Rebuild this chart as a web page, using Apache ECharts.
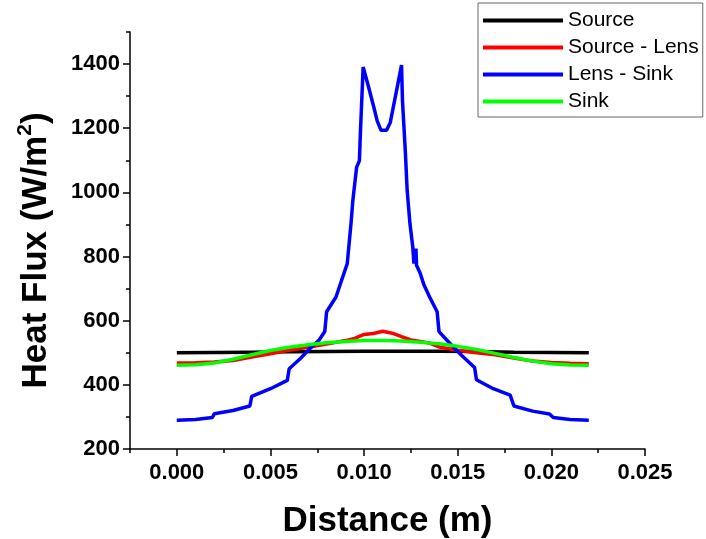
<!DOCTYPE html>
<html>
<head>
<meta charset="utf-8">
<script src="https://cdn.jsdelivr.net/npm/echarts@6/dist/echarts.min.js"></script>
<style>html,body{margin:0;padding:0;background:#fff;}#c{width:706px;height:539px;}</style>
</head>
<body>
<div id="c"></div>
<script>
// ---- data ----
const seriesNames = ['Source', 'Source - Lens', 'Lens - Sink', 'Sink'];
const xMajorTicks = [0, 0.005, 0.010, 0.015, 0.020, 0.025];
const xMinorTicks = [-0.0025, 0.0025, 0.0075, 0.0125, 0.0175, 0.0225];
const yMajorTicks = [200, 400, 600, 800, 1000, 1200, 1400];
const yMinorTicks = [300, 500, 700, 900, 1100, 1300, 1500];

const sourceData = [[0,500],[0.002,501],[0.004,502],[0.006,503],[0.008,504],[0.010,505],[0.012,505],[0.014,505],[0.016,504],[0.018,502],[0.020,501],[0.022,500]];
const sourceLensData = [[0,468],[0.001,469],[0.002,471],[0.003,476],[0.004,487],[0.005,497],[0.006,508],[0.007,517],[0.008,527],[0.009,538],[0.0095,545],[0.010,557],[0.0105,560],[0.011,567],[0.0115,561],[0.012,550],[0.0125,540],[0.013,535],[0.0135,530],[0.014,518],[0.015,508],[0.016,500],[0.017,494],[0.018,484],[0.019,474],[0.020,470],[0.021,467],[0.022,466]];
const lensSinkData = [[0,290],[0.001,292],[0.0019,298],[0.002,310],[0.003,320],[0.0039,334],[0.004,364],[0.005,388],[0.0059,414],[0.006,450],[0.0066,482],[0.0071,513],[0.0076,540],[0.0079,566],[0.008,628],[0.0085,674],[0.0088,726],[0.0091,778],[0.0092,840],[0.0093,902],[0.0094,975],[0.0096,1078],[0.00975,1099],[0.0098,1182],[0.00995,1391],[0.0102,1337],[0.0105,1270],[0.0107,1223],[0.0109,1194],[0.0112,1194],[0.0114,1218],[0.012,1397],[0.01205,1285],[0.0122,1130],[0.0123,1006],[0.01245,902],[0.0126,830],[0.01266,778],[0.01277,825],[0.0128,773],[0.013,747],[0.0132,711],[0.0135,674],[0.0139,628],[0.014,566],[0.0146,528],[0.0152,492],[0.0159,454],[0.016,416],[0.0169,388],[0.0178,368],[0.018,334],[0.019,318],[0.0199,309],[0.0201,298],[0.021,292],[0.022,290]];
const sinkData = [[0,461],[0.001,463],[0.002,468],[0.003,480],[0.004,494],[0.005,507],[0.006,517],[0.007,525],[0.008,531],[0.009,535],[0.010,538],[0.011,538],[0.012,537],[0.013,533],[0.014,528],[0.015,520],[0.016,510],[0.017,498],[0.018,485],[0.019,474],[0.020,466],[0.021,462],[0.022,461]];

const colors = ['#000000', '#ff0000', '#0000ff', '#00ff00'];
const allData = [sourceData, sourceLensData, lensSinkData, sinkData];

// ---- chart ----
const FONT = '"Liberation Sans", Arial, sans-serif';
const chart = echarts.init(document.getElementById('c'), null, {renderer: 'canvas'});
const axisLine = {show: true, onZero: false, lineStyle: {color: '#000', width: 1.5}};
const option = {
  animation: false,
  backgroundColor: '#fff',
  grid: {left: 130, right: 61, top: 32, bottom: 90, containLabel: false, outerBoundsMode: 'none'},
  legend: {
    orient: 'vertical', left: 478, top: 3,
    data: seriesNames,
    icon: 'rect', itemWidth: 80, itemHeight: 4, itemGap: 4,
    padding: [6, 4, 4, 5],
    borderColor: '#666', borderWidth: 1, backgroundColor: '#fff',
    textStyle: {fontFamily: FONT, fontSize: 21, color: '#000', lineHeight: 23}
  },
  xAxis: [{
    type: 'value', min: -0.0025, max: 0.025,
    axisLine: axisLine,
    axisTick: {show: true, length: 7, lineStyle: {color: '#000', width: 1.5}, customValues: xMajorTicks},
    axisLabel: {customValues: xMajorTicks, formatter: v => v.toFixed(3), fontFamily: FONT, fontWeight: 'bold', fontSize: 22, color: '#000', margin: 13},
    splitLine: {show: false},
    name: 'Distance (m)', nameLocation: 'middle', nameGap: 55,
    nameTextStyle: {fontFamily: FONT, fontWeight: 'bold', fontSize: 35, color: '#000'}
  }, {
    type: 'value', min: -0.0025, max: 0.025, position: 'bottom',
    axisLine: {show: false, onZero: false},
    axisTick: {show: true, length: 4, lineStyle: {color: '#000', width: 1.5}, customValues: xMinorTicks},
    axisLabel: {show: false}, splitLine: {show: false}
  }],
  yAxis: [{
    type: 'value', min: 200, max: 1500,
    axisLine: axisLine,
    axisTick: {show: true, length: 7, lineStyle: {color: '#000', width: 1.5}, customValues: yMajorTicks},
    axisLabel: {customValues: yMajorTicks, formatter: v => String(v), fontFamily: FONT, fontWeight: 'bold', fontSize: 22, color: '#000', margin: 10},
    splitLine: {show: false},
    name: '{a|Heat Flux (W/m}{s|2}{a|)}', nameLocation: 'middle', nameGap: 73,
    nameTextStyle: {
      padding: [0, 20, 0, 0],
      rich: {
        a: {fontFamily: FONT, fontWeight: 'bold', fontSize: 35, color: '#000', lineHeight: 42},
        s: {fontFamily: FONT, fontWeight: 'bold', fontSize: 21, color: '#000', verticalAlign: 'top', lineHeight: 42}
      }
    }
  }, {
    type: 'value', min: 200, max: 1500, position: 'left',
    axisLine: {show: false, onZero: false},
    axisTick: {show: true, length: 4, lineStyle: {color: '#000', width: 1.5}, customValues: yMinorTicks},
    axisLabel: {show: false}, splitLine: {show: false}
  }],
  series: allData.map((d, i) => ({
    name: seriesNames[i], type: 'line', data: d,
    xAxisIndex: 0, yAxisIndex: 0,
    showSymbol: false, symbol: 'none',
    lineStyle: {color: colors[i], width: 3.5},
    itemStyle: {color: colors[i]},
    z: 2 + i
  }))
};
chart.setOption(option);
</script>
</body>
</html>
